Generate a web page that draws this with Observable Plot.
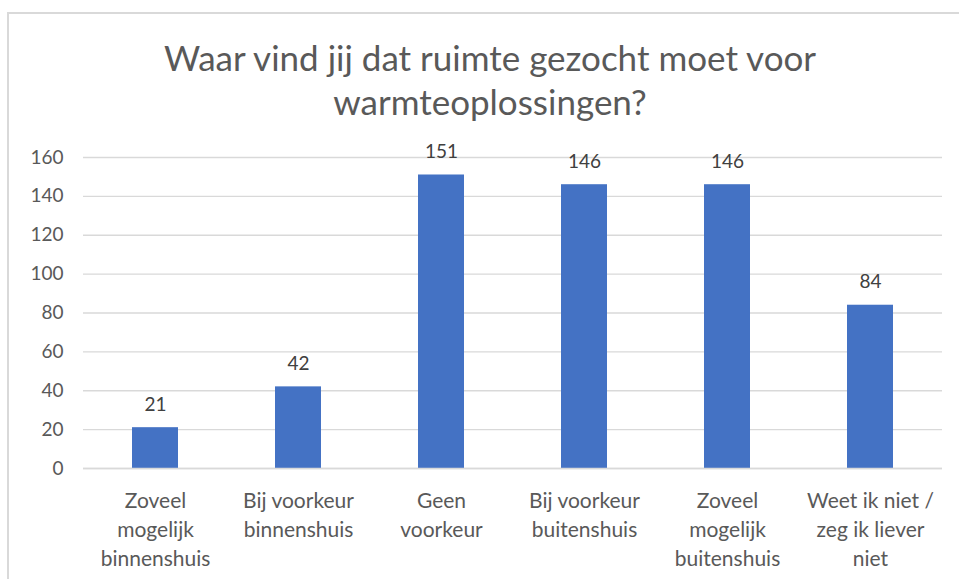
<!DOCTYPE html>
<html>
<head>
<meta charset="utf-8">
<script src="https://cdn.jsdelivr.net/npm/d3@7"></script>
<script src="https://cdn.jsdelivr.net/npm/@observablehq/plot@0.6"></script>
<style>
  html, body { margin: 0; padding: 0; background: #fff; }
  #wrap { position: relative; width: 959px; height: 579px; overflow: hidden; font-family: Lato, "Open Sans", sans-serif; }
  #frame { position: absolute; left: 7px; top: 12px; width: 1000px; height: 700px; border: 2px solid #d9d9d9; box-sizing: border-box; }
  #title { position: absolute; left: 21px; width: 938px; top: 35px; text-align: center; font-size: 35px; line-height: 44px; color: #595959; }
  #chart { position: absolute; left: 0; top: 140px; }
</style>
</head>
<body>
<div id="wrap">
  <div id="frame"></div>
  <div id="title">Waar vind jij dat ruimte gezocht moet voor<br>warmteoplossingen?</div>
  <div id="chart"></div>
</div>
<script>
const categories = [
  "Zoveel\nmogelijk\nbinnenshuis",
  "Bij voorkeur\nbinnenshuis",
  "Geen\nvoorkeur",
  "Bij voorkeur\nbuitenshuis",
  "Zoveel\nmogelijk\nbuitenshuis",
  "Weet ik niet /\nzeg ik liever\nniet"
];
const values = [21, 42, 151, 146, 146, 84];
const yTicks = [0, 20, 40, 60, 80, 100, 120, 140, 160];

const data = categories.map((c, i) => ({category: c, value: values[i]}));

const plot = Plot.plot({
  width: 959,
  height: 439,
  marginLeft: 83,
  marginRight: 17,
  marginTop: 17,
  marginBottom: 111,
  style: {fontFamily: "Lato, 'Open Sans', sans-serif", color: "#595959", background: "transparent"},
  x: {domain: categories, paddingInner: 0.68, paddingOuter: 0.34, label: null},
  y: {domain: [0, 160], label: null},
  marks: [
    Plot.gridY(yTicks, {stroke: "#d9d9d9", strokeOpacity: 1, strokeWidth: 1.3}),
    Plot.axisY(yTicks, {tickSize: 0, tickPadding: 20, fontSize: 19, fill: "#595959", label: null}),
    Plot.barY(data, {x: "category", y: "value", fill: "#4472C4"}),
    Plot.text(data, {x: "category", y: "value", text: d => String(d.value), dy: -23, fontSize: 19, fill: "#404040"}),
    Plot.axisX({tickSize: 0, tickPadding: 19, fontSize: 21, lineHeight: 1.38, fill: "#595959", label: null}),
    Plot.ruleY([0], {stroke: "#d9d9d9", strokeWidth: 1.3})
  ]
});
document.getElementById("chart").appendChild(plot);
</script>
</body>
</html>
